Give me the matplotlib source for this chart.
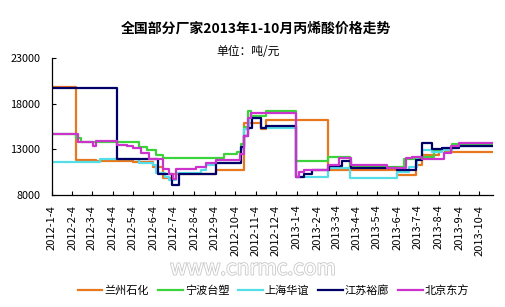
import numpy as np
import matplotlib
matplotlib.use("Agg")
import matplotlib.pyplot as plt
import matplotlib.patheffects as pe

plt.rcParams['font.family'] = ['Noto Sans CJK SC', 'DejaVu Sans']

title = "全国部分厂家2013年1-10月丙烯酸价格走势"
unit = "单位：吨/元"
series_names = ["兰州石化", "宁波台塑", "上海华谊", "江苏裕廊", "北京东方"]
colors = ["#E8781E", "#3CD23C", "#55DEE8", "#000066", "#CC33CC"]

lz_dates = ["2012-01-04", "2012-02-10", "2012-03-11", "2012-05-04", "2012-06-03", "2012-06-18",
            "2012-07-03", "2012-09-05", "2012-10-17", "2012-11-12", "2012-11-19", "2013-02-20",
            "2013-06-03", "2013-07-01", "2013-07-10", "2013-08-04", "2013-08-14", "2013-10-24"]
lz_vals = [19900, 11800, 11700, 11600, 11100, 9900, 10250, 10700, 15900, 15200, 16200, 10700,
           10200, 11300, 12400, 12950, 12770, 12770]

nb_dates = ["2012-01-04", "2012-02-10", "2012-02-17", "2012-05-14", "2012-05-26", "2012-06-08",
            "2012-06-18", "2012-09-17", "2012-10-07", "2012-10-13", "2012-10-18", "2012-10-24",
            "2012-10-28", "2012-11-19", "2013-01-03", "2013-02-20", "2013-03-25", "2013-06-13",
            "2013-07-10", "2013-07-28", "2013-08-24", "2013-10-24"]
nb_vals = [14700, 14250, 13800, 13300, 12950, 12400, 12050, 12500, 12770, 13600, 15500, 17200,
           16650, 17250, 11700, 12150, 11100, 11900, 12220, 12960, 13600, 13600]

sh_dates = ["2012-01-04", "2012-03-16", "2012-05-14", "2012-06-03", "2012-06-08", "2012-06-21",
            "2012-06-28", "2012-07-08", "2012-08-14", "2012-08-22", "2012-09-05", "2012-10-13",
            "2012-10-18", "2012-10-25", "2012-11-12", "2013-01-03", "2013-02-20", "2013-03-25",
            "2013-06-03", "2013-06-21", "2013-07-02", "2013-07-10", "2013-07-25", "2013-08-09",
            "2013-08-24", "2013-10-24"]
sh_vals = [11670, 11930, 11490, 11300, 10400, 10000, 9650, 10460, 10750, 11300, 11560, 13000,
           15200, 16400, 15350, 9950, 10940, 9900, 10570, 11120, 12220, 12960, 12770, 12960,
           13350, 13350]

js_dates = ["2012-01-04", "2012-04-11", "2012-06-11", "2012-07-02", "2012-07-12", "2012-09-05",
            "2012-10-13", "2012-10-18", "2012-10-24", "2012-10-29", "2012-11-12", "2012-11-19",
            "2013-01-03", "2013-01-15", "2013-01-27", "2013-02-21", "2013-03-13", "2013-03-26",
            "2013-06-03", "2013-07-01", "2013-07-10", "2013-07-25", "2013-08-09", "2013-09-03",
            "2013-10-24"]
js_vals = [19700, 12000, 10300, 9100, 10300, 11500, 13300, 14500, 15350, 16450, 15400, 15600,
           10000, 10300, 10750, 11200, 11700, 10950, 10750, 11860, 13650, 13000, 13200, 13320,
           13320]

bj_dates = ["2012-01-04", "2012-02-12", "2012-03-06", "2012-03-11", "2012-04-10", "2012-04-25",
            "2012-05-04", "2012-05-17", "2012-05-29", "2012-06-18", "2012-06-28", "2012-07-03",
            "2012-07-08", "2012-08-07", "2012-08-22", "2012-09-05", "2012-10-12", "2012-10-18",
            "2012-10-24", "2012-10-28", "2013-01-03", "2013-01-07", "2013-01-15", "2013-02-20",
            "2013-03-08", "2013-03-26", "2013-05-19", "2013-06-16", "2013-06-25", "2013-07-10",
            "2013-08-12", "2013-08-22", "2013-09-03", "2013-10-24"]
bj_vals = [14650, 13760, 13320, 13870, 13510, 13320, 13100, 12600, 11900, 10800, 10300, 9700,
           10850, 11100, 11500, 11800, 12500, 14500, 16500, 17000, 10000, 10500, 10750, 11300,
           12040, 11300, 10940, 12040, 12220, 11930, 12600, 13320, 13700, 13700]

tick_months = [(2012, m) for m in range(1, 13)] + [(2013, m) for m in range(1, 11)]
tick_labels = [f"{y}-{m}-4" for y, m in tick_months]
y_ticks = [8000, 13000, 18000, 23000]

all_series = [(lz_dates, lz_vals), (nb_dates, nb_vals), (sh_dates, sh_vals),
              (js_dates, js_vals), (bj_dates, bj_vals)]

fig = plt.figure(figsize=(5.06, 3.07), dpi=100)
ax = fig.add_axes([0.102, 0.365, 0.872, 0.445])

for (d, v), name, c in zip(all_series, series_names, colors):
    ax.plot(np.array(d, dtype='datetime64[D]'), v, drawstyle='steps-post',
            color=c, lw=1.6, label=name)

tick_pos = np.array([f"{y}-{m:02d}-04" for y, m in tick_months], dtype='datetime64[D]')
ax.set_xticks(tick_pos)
ax.set_xticklabels(tick_labels, rotation=90, fontsize=8, va='top', ha='center')
ax.set_xlim(np.datetime64("2012-01-04"), np.datetime64("2013-10-24"))
ax.set_ylim(8000, 23000)
ax.set_yticks(y_ticks)
ax.set_yticklabels([str(t) for t in y_ticks], fontsize=7.8)
ax.tick_params(direction='in', length=3, width=0.8)
ax.tick_params(axis='y', pad=8)
ax.tick_params(axis='x', pad=7)
for s in ['top', 'right']:
    ax.spines[s].set_visible(False)
for s in ['left', 'bottom']:
    ax.spines[s].set_linewidth(0.9)

fig.text(0.506, 0.905, title, ha='center', va='center', fontsize=10, fontweight='bold')
fig.text(0.49, 0.833, unit, ha='center', va='center', fontsize=8.5)

fig.text(0.50, 0.125, "www.cnrmc.com", ha='center', va='center', fontsize=15,
         color='white', style='italic',
         path_effects=[pe.withStroke(linewidth=1.2, foreground='#c8c8c8')])

fig.legend(loc='center', bbox_to_anchor=(0.541, 0.055), ncol=5, frameon=False,
           fontsize=8, handlelength=2.2, handletextpad=0.2, columnspacing=0.8)

fig.savefig("out.png", dpi=100)
